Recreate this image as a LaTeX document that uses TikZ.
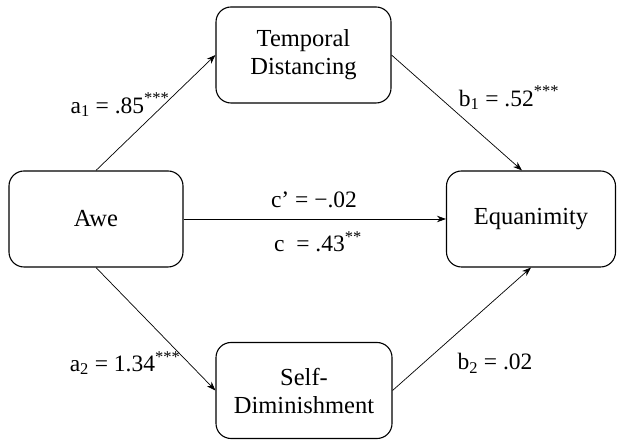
\documentclass[tikz,border=0pt]{standalone}
\usepackage{fontspec}
\setmainfont{Liberation Serif}
\usetikzlibrary{arrows.meta,positioning,calc}

\begin{document}
\begin{tikzpicture}[x=1pt, y=1pt, line width=0.7pt,
                var/.style={draw, rounded corners=15pt, line width=1.1pt, align=center,
                            minimum height=96pt, font=\fontsize{24.5}{28}\selectfont},
                path/.style={-{Stealth[length=9pt,width=6.5pt]}},
                coef/.style={font=\fontsize{23.5}{28}\selectfont, inner sep=0pt}
            ]

                \useasboundingbox (0,0) rectangle (618,441);

% --- variables (boxes) ---
                \node[var, minimum width=174pt] (awe)  at (96,222)    {Awe};
                \node[var, minimum width=175pt] (temp) at (303.5,386) {Temporal\\Distancing};
                \node[var, minimum width=169pt] (equa) at (531,222)   {Equanimity};
                \node[var, minimum width=176pt] (self) at (304,50.5)  {Self-\\Diminishment};

% --- paths ---
                \draw[path] (awe.north) -- (temp.west);              % a1
                \draw[path] (temp.east) -- ([xshift=-9pt]equa.north); % b1
                \draw[path] (awe.east)  -- (equa.west);              % c / c'
                \draw[path] (awe.south) -- (self.west);              % a2
                \draw[path] (self.east) -- (equa.south);             % b2

% --- coefficients ---
                \node[coef] (la1) at (120,336) {a\textsubscript{1} = .85\textsuperscript{***}};
                \node[coef] (lb1) at (509,343) {b\textsubscript{1} = .52\textsuperscript{***}};
                \node[coef] (lcp) at (314,241) {c’ = −.02};
                \node[coef] (lc)  at (318,199) {c\ \ = .43\textsuperscript{**}};
                \node[coef] (la2) at (125,78)  {a\textsubscript{2} = 1.34\textsuperscript{***}};
                \node[coef] (lb2) at (495,78)  {b\textsubscript{2} = .02};

            \end{tikzpicture}
\end{document}
